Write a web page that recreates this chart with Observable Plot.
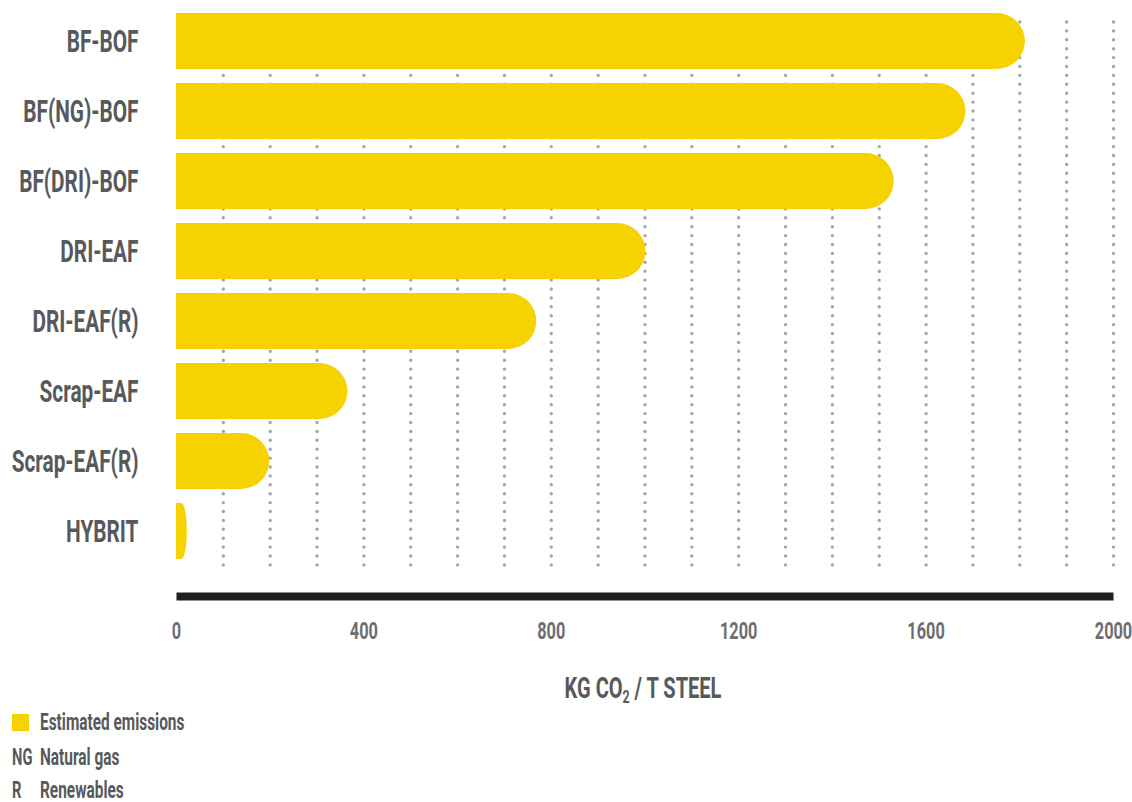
<!DOCTYPE html>
<html><head><meta charset="utf-8">
<script src="https://cdn.jsdelivr.net/npm/d3@7"></script>
<script src="https://cdn.jsdelivr.net/npm/@observablehq/plot@0.6"></script>
<style>
body{margin:0;background:#fff;font-family:Roboto,'Liberation Sans',sans-serif;}
#wrap{position:relative;width:1132px;height:802px;overflow:hidden;}
#chart svg{display:block;}
.t{position:absolute;font-weight:bold;white-space:nowrap;line-height:0.9;color:#58595b;}
</style></head><body><div id="wrap"><div id="chart"></div></div>
<script>
const processes = ["BF-BOF","BF(NG)-BOF","BF(DRI)-BOF","DRI-EAF","DRI-EAF(R)","Scrap-EAF","Scrap-EAF(R)","HYBRIT"];
const emissions = [1812, 1685, 1532, 1002, 769, 366, 199, 23];
const xTicks = [0, 400, 800, 1200, 1600, 2000];
const gridTicks = [100,200,300,400,500,600,700,800,900,1000,1100,1200,1300,1400,1500,1600,1700,1800,1900,2000];
const axisTitle = "KG CO";
const axisTitleSub = "2";
const axisTitleRest = " / T STEEL";
const legendKeys = ["", "NG", "R"];
const legendLabels = ["Estimated emissions", "Natural gas", "Renewables"];

const yellow = "#f5d200";
const fontFam = "Roboto,'Liberation Sans',sans-serif";
const data = processes.map((p, i) => ({process: p, value: emissions[i]}));

const chart = Plot.plot({
  width: 1132, height: 660,
  marginTop: 0, marginLeft: 176, marginRight: 19, marginBottom: 64,
  x: {domain: [0, 2000]},
  y: {domain: processes, range: [3.8, 567.2], paddingInner: 0.2, paddingOuter: 0.1},
  style: {fontFamily: fontFam, fontWeight: "bold", background: "#fff"},
  marks: [
    Plot.ruleX(gridTicks, {stroke: "#a3a5a8", strokeWidth: 3.4, strokeDasharray: "0 8.9", strokeLinecap: "round", insetTop: 22, insetBottom: 24}),
    Plot.barX(data, {x: "value", y: "process", fill: yellow, rx: 28}),
    Plot.barX(data, {x1: 0, x2: d => d.value / 2, y: "process", fill: yellow}),
    Plot.frame({anchor: "bottom", stroke: "#231f20", strokeWidth: 8, strokeLinecap: "butt"}),
    Plot.axisY({tickSize: 0, tickPadding: 38, fontSize: 32, color: "#58595b", label: null}),
    Plot.axisX({ticks: xTicks, tickFormat: d => String(d), tickSize: 0, tickPadding: 25, fontSize: 24, color: "#6d6e71", label: null})
  ]
});
document.getElementById("chart").appendChild(chart);

const svg = d3.select(chart);
svg.selectAll('g[aria-label="y-axis tick label"] text').each(function(){
  const t = this.getAttribute("transform") || "";
  this.setAttribute("transform", t + " scale(0.65,1)");
  this.style.fontSize = "32px";
});
svg.selectAll('g[aria-label="x-axis tick label"] text').each(function(){
  const t = this.getAttribute("transform") || "";
  this.setAttribute("transform", t + " scale(0.68,1)");
  this.style.fontSize = "24px";
});

const wrap = document.getElementById("wrap");
const title = document.createElement("div");
title.className = "t";
title.style.cssText = "left:643px;top:675px;font-size:29px;transform:translateX(-50%) scaleX(0.69);transform-origin:50% 50%;";
title.innerHTML = axisTitle + '<span style="font-size:62%;position:relative;top:0.28em">' + axisTitleSub + '</span>' + axisTitleRest;
wrap.appendChild(title);

const rowTops = [713, 748, 780.5];
legendLabels.forEach((lab, i) => {
  if (legendKeys[i] === "") {
    const sw = document.createElement("div");
    sw.style.cssText = `position:absolute;left:12px;top:${rowTops[i] + 1}px;width:17px;height:17px;background:${yellow};`;
    wrap.appendChild(sw);
  } else {
    const k = document.createElement("div");
    k.className = "t";
    k.style.cssText = `left:12px;top:${rowTops[i]}px;font-size:23px;transform:scaleX(0.64);transform-origin:0 0;`;
    k.textContent = legendKeys[i];
    wrap.appendChild(k);
  }
  const l = document.createElement("div");
  l.className = "t";
  l.style.cssText = `left:40px;top:${rowTops[i]}px;font-size:23px;transform:scaleX(0.67);transform-origin:0 0;`;
  l.textContent = lab;
  wrap.appendChild(l);
});
</script>
</body></html>
